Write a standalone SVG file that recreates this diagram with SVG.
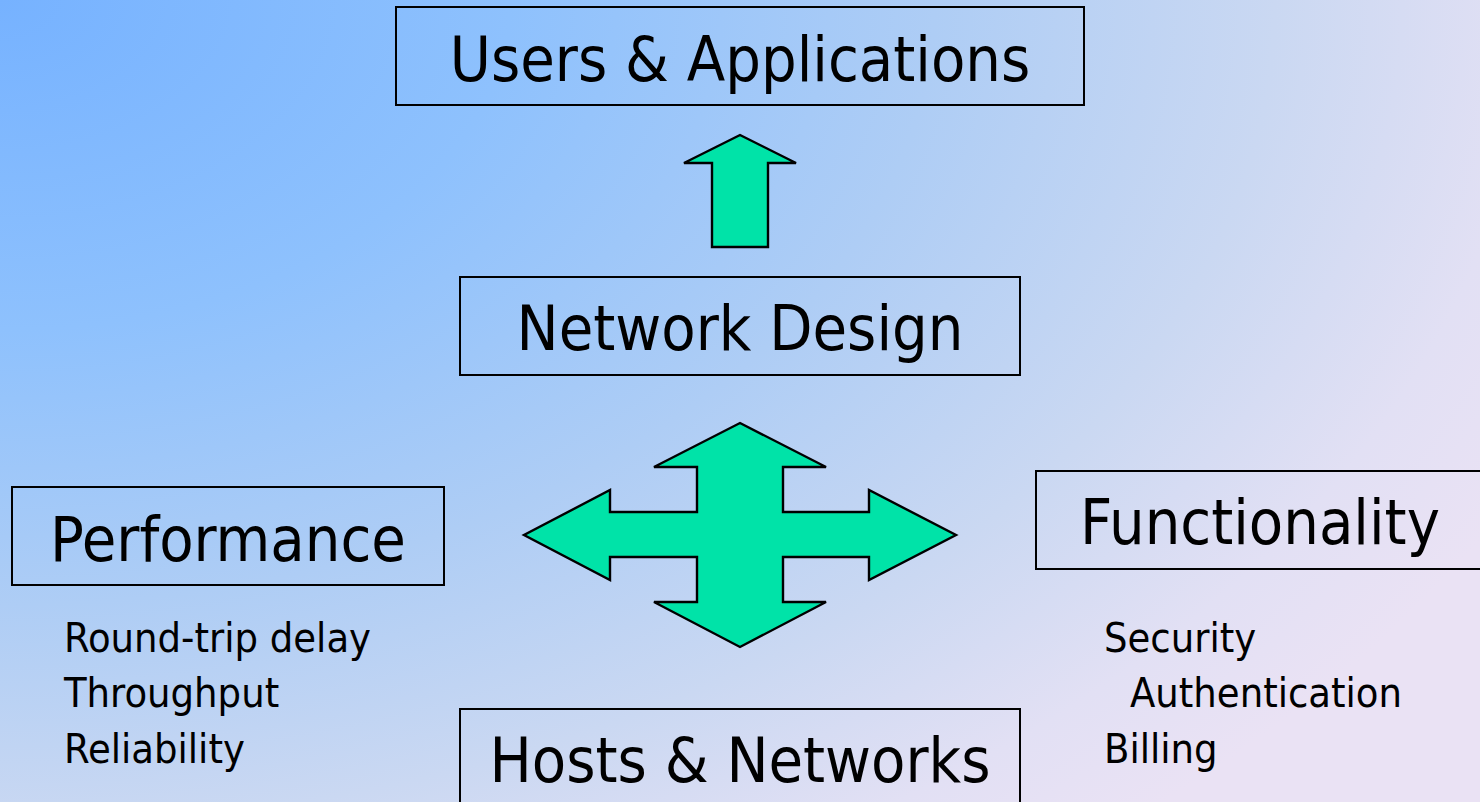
<svg xmlns="http://www.w3.org/2000/svg" width="1480" height="802" viewBox="0 0 1480 802">
  <defs>
    <!-- corner-anchored elliptical background wash: saturated blue top-left fading to pale lavender -->
    <radialGradient id="bg" gradientUnits="userSpaceOnUse" cx="0" cy="0" r="1700" gradientTransform="scale(1 0.647)">
      <stop offset="0" stop-color="#76b2ff"/>
      <stop offset="0.3" stop-color="#8ec1fd"/>
      <stop offset="0.55" stop-color="#aecdf5"/>
      <stop offset="0.75" stop-color="#cad8f2"/>
      <stop offset="0.9" stop-color="#e2e0f4"/>
      <stop offset="1" stop-color="#eae2f4"/>
    </radialGradient>
    <style>
      .box { fill: none; stroke: #000; stroke-width: 2; }
      .big { font-family: "DejaVu Sans Condensed", "DejaVu Sans", sans-serif; font-stretch: condensed; font-size: 62.5px; fill: #000; text-anchor: middle; }
      .small { font-family: "DejaVu Sans Condensed", "DejaVu Sans", sans-serif; font-stretch: condensed; font-size: 41.2px; fill: #000; }
      .arrow { fill: #00e3a8; stroke: #000; stroke-width: 2.4; stroke-linejoin: miter; }
    </style>
  </defs>

  <rect x="0" y="0" width="1480" height="802" fill="url(#bg)"/>

  <g id="users-applications">
    <rect class="box" x="396" y="7" width="688" height="98"/>
    <text class="big" x="740" y="81">Users &amp; Applications</text>
  </g>

  <g id="network-design">
    <rect class="box" x="460" y="277" width="560" height="98"/>
    <text class="big" x="740" y="350">Network Design</text>
  </g>

  <g id="performance">
    <rect class="box" x="12" y="487" width="432" height="98"/>
    <text class="big" x="228" y="561">Performance</text>
    <text class="small" x="64" y="652">Round-trip delay</text>
    <text class="small" x="64" y="707">Throughput</text>
    <text class="small" x="64" y="763">Reliability</text>
  </g>

  <g id="functionality">
    <rect class="box" x="1036" y="471" width="460" height="98"/>
    <text class="big" x="1260" y="544">Functionality</text>
    <text class="small" x="1104" y="652">Security</text>
    <text class="small" x="1130" y="707">Authentication</text>
    <text class="small" x="1104" y="763">Billing</text>
  </g>

  <g id="hosts-networks">
    <rect class="box" x="460" y="709" width="560" height="110"/>
    <text class="big" x="740" y="782">Hosts &amp; Networks</text>
  </g>

  <g id="connectors">
    <!-- block arrow from Network Design up to Users & Applications -->
    <polygon class="arrow" points="740,135 796,163 768,163 768,247 712,247 712,163 684,163"/>
    <!-- four-way block arrow around the design trade-offs -->
    <polygon class="arrow" points="740,423 826,467 783,467 783,512 869,512 869,490 956,535 869,580 869,557 783,557 783,602 826,602 740,647 654,602 697,602 697,557 610,557 610,580 524,535 610,490 610,512 697,512 697,467 654,467"/>
  </g>
</svg>
